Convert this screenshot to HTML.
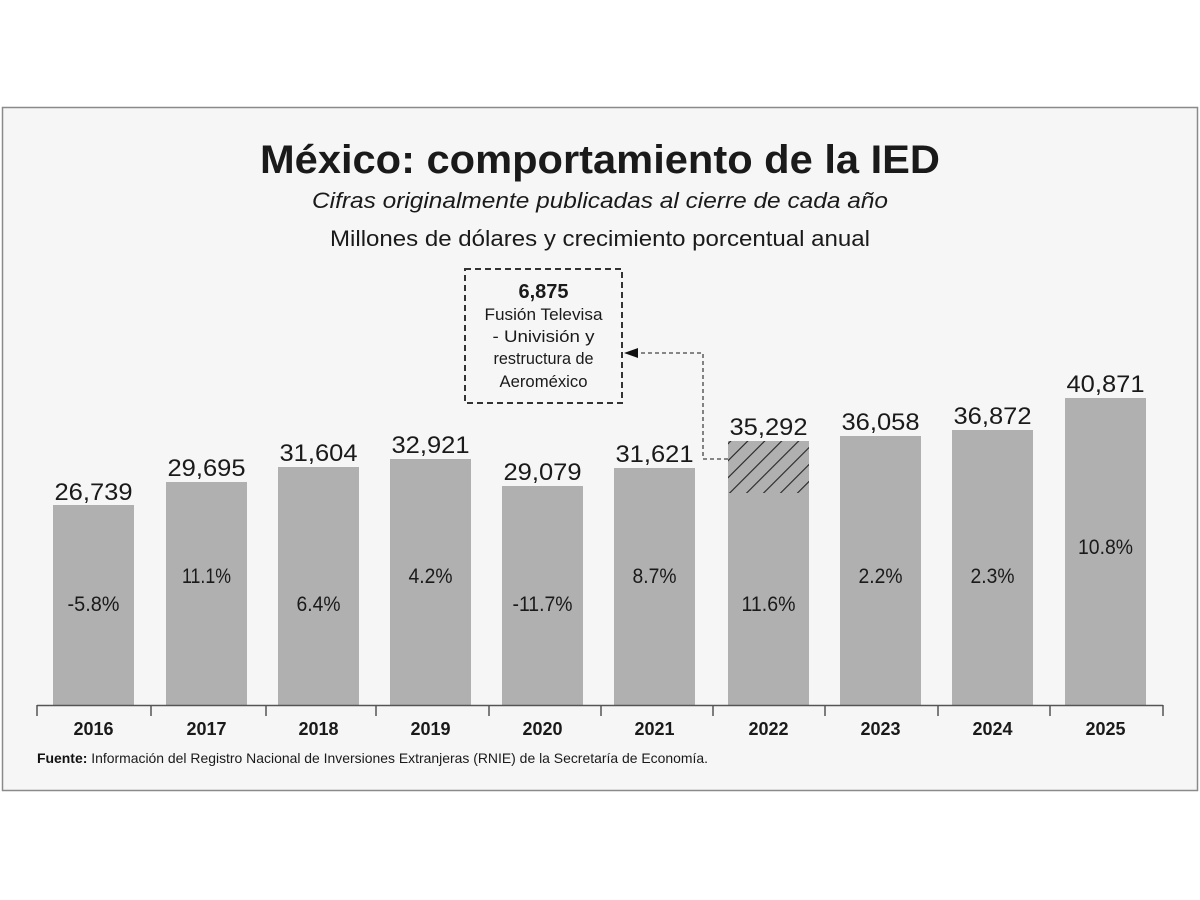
<!DOCTYPE html>
<html><head><meta charset="utf-8"><style>
html,body{margin:0;padding:0;background:#fff;}
svg{display:block;}
text{font-family:"Liberation Sans",sans-serif;fill:#1a1a1a;}
</style></head><body>
<svg width="1200" height="900" viewBox="0 0 1200 900" xmlns="http://www.w3.org/2000/svg">
<defs>
<pattern id="h" patternUnits="userSpaceOnUse" width="12" height="12" patternTransform="rotate(45)">
<rect width="12" height="12" fill="#b0b0b0"/>
<line x1="0" y1="0" x2="0" y2="12" stroke="#222" stroke-width="2.2"/>
</pattern>
</defs>
<rect x="2.5" y="107.5" width="1195" height="683" fill="#f6f6f6" stroke="#8a8a8a" stroke-width="1.5"/>
<text x="600" y="173" text-anchor="middle" font-size="40" font-weight="bold" textLength="680" lengthAdjust="spacingAndGlyphs">México: comportamiento de la IED</text>
<text x="600" y="208" text-anchor="middle" font-size="22" font-style="italic" fill="#333" textLength="576" lengthAdjust="spacingAndGlyphs">Cifras originalmente publicadas al cierre de cada año</text>
<text x="600" y="246" text-anchor="middle" font-size="22" fill="#333" textLength="540" lengthAdjust="spacingAndGlyphs">Millones de dólares y crecimiento porcentual anual</text>

<g fill="#b0b0b0">
<rect x="53" y="505" width="81" height="200"/>
<rect x="166" y="482" width="81" height="223"/>
<rect x="278" y="467" width="81" height="238"/>
<rect x="390" y="459" width="81" height="246"/>
<rect x="502" y="486" width="81" height="219"/>
<rect x="614" y="468" width="81" height="237"/>
<rect x="728" y="441" width="81" height="264"/>
<rect x="840" y="436" width="81" height="269"/>
<rect x="952" y="430" width="81" height="275"/>
<rect x="1065" y="398" width="81" height="307"/>
</g>
<rect x="728" y="441" width="81" height="52" fill="url(#h)"/>

<g font-size="24" text-anchor="middle">
<text x="93.5" y="500" textLength="78" lengthAdjust="spacingAndGlyphs">26,739</text>
<text x="206.5" y="476" textLength="78" lengthAdjust="spacingAndGlyphs">29,695</text>
<text x="318.5" y="461" textLength="78" lengthAdjust="spacingAndGlyphs">31,604</text>
<text x="430.5" y="453" textLength="78" lengthAdjust="spacingAndGlyphs">32,921</text>
<text x="542.5" y="480" textLength="78" lengthAdjust="spacingAndGlyphs">29,079</text>
<text x="654.5" y="462" textLength="78" lengthAdjust="spacingAndGlyphs">31,621</text>
<text x="768.5" y="435" textLength="78" lengthAdjust="spacingAndGlyphs">35,292</text>
<text x="880.5" y="430" textLength="78" lengthAdjust="spacingAndGlyphs">36,058</text>
<text x="992.5" y="424" textLength="78" lengthAdjust="spacingAndGlyphs">36,872</text>
<text x="1105.5" y="392" textLength="78" lengthAdjust="spacingAndGlyphs">40,871</text>
</g>
<g font-size="21" text-anchor="middle">
<text x="93.5" y="611" textLength="52" lengthAdjust="spacingAndGlyphs">-5.8%</text>
<text x="206.5" y="583" textLength="49" lengthAdjust="spacingAndGlyphs">11.1%</text>
<text x="318.5" y="611" textLength="44" lengthAdjust="spacingAndGlyphs">6.4%</text>
<text x="430.5" y="583" textLength="44" lengthAdjust="spacingAndGlyphs">4.2%</text>
<text x="542.5" y="611" textLength="60" lengthAdjust="spacingAndGlyphs">-11.7%</text>
<text x="654.5" y="583" textLength="44" lengthAdjust="spacingAndGlyphs">8.7%</text>
<text x="768.5" y="611" textLength="54" lengthAdjust="spacingAndGlyphs">11.6%</text>
<text x="880.5" y="583" textLength="44" lengthAdjust="spacingAndGlyphs">2.2%</text>
<text x="992.5" y="583" textLength="44" lengthAdjust="spacingAndGlyphs">2.3%</text>
<text x="1105.5" y="554" textLength="55" lengthAdjust="spacingAndGlyphs">10.8%</text>
</g>

<g stroke="#555" stroke-width="1.5">
<line x1="37" y1="705.5" x2="1163" y2="705.5"/>
<line x1="37" y1="705" x2="37" y2="716"/>
<line x1="151" y1="705" x2="151" y2="716"/>
<line x1="266" y1="705" x2="266" y2="716"/>
<line x1="376" y1="705" x2="376" y2="716"/>
<line x1="489" y1="705" x2="489" y2="716"/>
<line x1="601" y1="705" x2="601" y2="716"/>
<line x1="713" y1="705" x2="713" y2="716"/>
<line x1="825" y1="705" x2="825" y2="716"/>
<line x1="938" y1="705" x2="938" y2="716"/>
<line x1="1050" y1="705" x2="1050" y2="716"/>
<line x1="1163" y1="705" x2="1163" y2="716"/>
</g>
<g font-size="18" font-weight="bold" text-anchor="middle">
<text x="93.5" y="735">2016</text>
<text x="206.5" y="735">2017</text>
<text x="318.5" y="735">2018</text>
<text x="430.5" y="735">2019</text>
<text x="542.5" y="735">2020</text>
<text x="654.5" y="735">2021</text>
<text x="768.5" y="735">2022</text>
<text x="880.5" y="735">2023</text>
<text x="992.5" y="735">2024</text>
<text x="1105.5" y="735">2025</text>
</g>
<text x="37" y="763" font-size="14" fill="#333" textLength="671" lengthAdjust="spacingAndGlyphs"><tspan font-weight="bold" fill="#111">Fuente:</tspan> Información del Registro Nacional de Inversiones Extranjeras (RNIE) de la Secretaría de Economía.</text>

<rect x="465" y="269" width="157" height="134" fill="none" stroke="#333" stroke-width="2" stroke-dasharray="6,4"/>
<g font-size="17" text-anchor="middle">
<text x="543.5" y="298" font-size="20" font-weight="bold">6,875</text>
<text x="543.5" y="320" textLength="118" lengthAdjust="spacingAndGlyphs">Fusión Televisa</text>
<text x="543.5" y="342" textLength="102" lengthAdjust="spacingAndGlyphs">- Univisión y</text>
<text x="543.5" y="364" textLength="100" lengthAdjust="spacingAndGlyphs">restructura de</text>
<text x="543.5" y="387" textLength="88" lengthAdjust="spacingAndGlyphs">Aeroméxico</text>
</g>
<polyline points="728,459 703,459 703,353 636,353" fill="none" stroke="#444" stroke-width="1.3" stroke-dasharray="4,3"/>
<path d="M624,353 L638,348 L638,358 Z" fill="#111"/>
</svg>
</body></html>
